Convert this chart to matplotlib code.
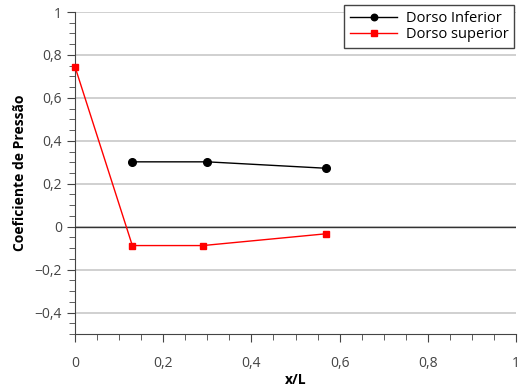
import matplotlib.pyplot as plt
from matplotlib.ticker import MultipleLocator, FuncFormatter

plt.rcParams['font.family'] = ['Open Sans', 'DejaVu Sans']

# pressure coefficient along the body
x_inf = [0.13, 0.30, 0.57]
cp_inf = [0.302, 0.302, 0.272]
x_sup = [0.0, 0.13, 0.29, 0.57]
cp_sup = [0.745, -0.088, -0.088, -0.033]

fig = plt.figure(figsize=(5.23, 3.9), dpi=100)
ax = fig.add_axes([75/523, 1 - 334/390, 441/523, 322/390])

ax.plot(x_inf, cp_inf, color='black', lw=1, marker='o', ms=5.5, label='Dorso Inferior', zorder=4)
ax.plot(x_sup, cp_sup, color='red', lw=1, marker='s', ms=5, label='Dorso superior', zorder=4, clip_on=False)

ax.set_xlim(0, 1)
ax.set_ylim(-0.5, 1)
ax.xaxis.set_major_locator(MultipleLocator(0.2))
ax.xaxis.set_minor_locator(MultipleLocator(0.05))
ax.yaxis.set_major_locator(MultipleLocator(0.2))
ax.yaxis.set_minor_locator(MultipleLocator(0.05))

def comma(v, pos):
    if abs(v) < 1e-9:
        return '0'
    s = ('%.1f' % v).rstrip('0').rstrip('.')
    return s.replace('.', ',').replace('-', '\u2212')

ax.xaxis.set_major_formatter(FuncFormatter(comma))
ax.yaxis.set_major_formatter(FuncFormatter(comma))

ax.grid(axis='y', which='major', color='#c8c8c8', lw=1.2)
ax.axhline(0, color='#333333', lw=1, zorder=3)

for s in ['top', 'right']:
    ax.spines[s].set_visible(False)
for s in ['left', 'bottom']:
    ax.spines[s].set_color('#444444')
ax.tick_params(which='major', length=6, color='#444444', labelcolor='#444444', labelsize=10)
ax.tick_params(which='minor', length=4, color='#444444')
ax.tick_params(axis='x', pad=10)

ax.set_xlabel('x/L', fontweight='bold', fontsize=10, labelpad=1)
ax.set_ylabel('Coeficiente de Pressão', fontweight='bold', fontsize=10, labelpad=5)

leg = ax.legend(loc='upper right', bbox_to_anchor=(0.996, 1.022), borderaxespad=0,
                fontsize=10.5, frameon=True, fancybox=False, edgecolor='#444444',
                framealpha=1, markerscale=0.85, handlelength=3.2, borderpad=0.4,
                labelspacing=0.1, handletextpad=0.6)
leg.get_frame().set_linewidth(1)

fig.savefig('out.png', dpi=100)
